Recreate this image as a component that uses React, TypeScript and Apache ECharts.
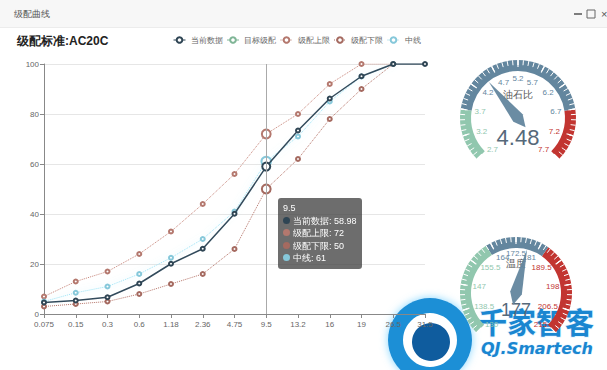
import React, { useEffect, useRef } from 'react';
import * as echarts from 'echarts';

const sieveSizes = ['0.075', '0.15', '0.3', '0.6', '1.18', '2.36', '4.75', '9.5', '13.2', '16', '19', '26.5', '31.5'];
const currentData = [4.6, 5.4, 6.7, 12.2, 20.1, 26.1, 40.1, 58.98, 73.4, 86.2, 95.1, 100, 100];
const targetData: number[] = [];
const upperLimit = [7, 13, 17, 24, 33, 44, 56, 72, 80, 92, 100, 100];
const lowerLimit = [3, 4, 5, 8, 12, 16, 26, 50, 62, 78, 90, 100];
const midLine = [5, 8.5, 11, 16, 22.5, 30, 41, 61, 71, 85, 95, 100];
const yTicks = { min: 0, max: 100, interval: 20 };

const asphaltGauge = { name: '油石比', min: 2.7, max: 7.7, value: 4.48 };
const tempGauge = { name: '温度', min: 130, max: 215, value: 177 };

const fmt = (v: number) => String(Math.round(Number(v) * 10) / 10);

function gaugeSeries(
  g: { name: string; min: number; max: number; value: number },
  center: number[],
  radius: number,
  colors: any[],
  titleOff: string,
  detailOff: string,
  detailSize: number,
  labelDist: number
) {
  return {
    type: 'gauge',
    center,
    radius,
    min: g.min,
    max: g.max,
    splitNumber: 10,
    startAngle: 225,
    endAngle: -45,
    axisLine: { lineStyle: { width: 11, color: colors } },
    axisTick: { distance: -11, length: 5, splitNumber: 5, lineStyle: { color: '#fff', width: 1 } },
    splitLine: { distance: -11, length: 7, lineStyle: { color: '#fff', width: 1.2 } },
    axisLabel: { distance: labelDist, color: 'auto', fontSize: 8, formatter: (v: number) => fmt(v) },
    pointer: { width: 6, length: '80%', itemStyle: { color: 'auto', opacity: 0.95 } },
    anchor: { show: false },
    progress: { show: false },
    title: { offsetCenter: [0, titleOff], fontSize: 10, color: '#555' },
    detail: { offsetCenter: [0, detailOff], fontSize: detailSize, fontWeight: 'normal', color: '#56697a', formatter: '{value}' },
    data: [{ value: g.value, name: g.name }],
  };
}

export default function App() {
  const ref = useRef<HTMLDivElement>(null);
  useEffect(() => {
    if (!ref.current) return;
    const chart = echarts.init(ref.current, null, { renderer: 'svg' });
    const dotted = (color: string) => ({
      type: 'line',
      symbol: 'emptyCircle',
      symbolSize: 4,
      itemStyle: { color },
      lineStyle: { type: 'dotted', width: 1, color },
      emphasis: { scale: 2.2 },
    });
    chart.setOption({
      animation: false,
      title: {
        text: '级配标准:AC20C',
        left: 12,
        top: 30,
        textStyle: { fontSize: 12, fontWeight: 'bold', color: '#222' },
      },
      legend: {
        top: 31,
        left: 168,
        itemWidth: 12,
        itemHeight: 7,
        itemGap: 4,
        lineStyle: { width: 1 },
        itemStyle: { borderWidth: 1 },
        textStyle: { fontSize: 7.5, color: '#666' },
        data: ['当前数据', '目标级配', '级配上限', '级配下限', '中线'],
      },
      grid: { left: 44, right: 182, top: 64, bottom: 56 },
      tooltip: {
        trigger: 'axis',
        alwaysShowContent: true,
        position: [278, 198],
        backgroundColor: 'rgba(60,60,60,0.75)',
        borderWidth: 0,
        padding: [4, 5],
        textStyle: { color: '#fff', fontSize: 9, lineHeight: 12.5 },
        extraCssText: 'border-radius:3px;box-shadow:none;line-height:12.5px;',
        axisPointer: { type: 'line', lineStyle: { color: '#aaa', width: 1, type: 'solid' } },
        formatter: (params: any[]) => {
          const head = params[0].axisValue;
          const rows = params.map(
            (p) =>
              `<span style="display:inline-block;width:7px;height:7px;border-radius:50%;margin-right:3px;background:${p.color};"></span>${p.seriesName}: ${p.value}`
          );
          return [head, ...rows].join('<br/>');
        },
      },
      xAxis: {
        type: 'category',
        boundaryGap: false,
        data: sieveSizes,
        axisLine: { lineStyle: { color: '#888' } },
        axisTick: { alignWithLabel: true, length: 4, lineStyle: { color: '#888' } },
        axisLabel: { fontSize: 8, color: '#666', margin: 6, interval: 0 },
      },
      yAxis: {
        type: 'value',
        min: yTicks.min,
        max: yTicks.max,
        interval: yTicks.interval,
        axisLine: { show: true, lineStyle: { color: '#888' } },
        axisTick: { show: true, length: 4, lineStyle: { color: '#888' } },
        axisLabel: { fontSize: 8, color: '#666', margin: 5 },
        splitLine: { lineStyle: { color: '#e6e6e6' } },
      },
      series: [
        {
          name: '当前数据',
          type: 'line',
          data: currentData,
          symbol: 'emptyCircle',
          symbolSize: 4,
          z: 5,
          itemStyle: { color: '#2f4554' },
          lineStyle: { width: 1.5, color: '#2f4554' },
          emphasis: { scale: 2 },
        },
        {
          name: '目标级配',
          type: 'line',
          data: targetData,
          symbol: 'emptyCircle',
          itemStyle: { color: '#7fb596' },
          lineStyle: { width: 1 },
        },
        { name: '级配上限', data: upperLimit, ...dotted('#b4786e') },
        { name: '级配下限', data: lowerLimit, ...dotted('#a56a60') },
        {
          name: '中线',
          type: 'line',
          data: midLine,
          symbol: 'emptyCircle',
          symbolSize: 4,
          itemStyle: { color: '#86c8da' },
          lineStyle: { type: 'dotted', width: 1, color: '#8fd0e0', shadowColor: 'rgba(140,220,240,0.8)', shadowBlur: 6 },
          emphasis: { scale: 2.4 },
        },
        gaugeSeries(asphaltGauge, [518, 118], 58, [[0.2, '#91c7ae'], [0.8, '#63869e'], [1, '#c23531']], '-40%', '34%', 22, 18),
        gaugeSeries(tempGauge, [516, 293], 56, [[0.38, '#91c7ae'], [0.63, '#63869e'], [1, '#c23531']], '-52%', '30%', 18, 16),
      ],
      graphic: [
        { type: 'rect', left: 0, top: 0, shape: { width: 607, height: 27 }, style: { fill: '#f7f7f7' }, z: 0 },
        { type: 'line', shape: { x1: 0, y1: 27.5, x2: 607, y2: 27.5 }, style: { stroke: '#ececec', lineWidth: 1 } },
        { type: 'text', left: 14, top: 9, style: { text: '级配曲线', fontSize: 9, fill: '#555' } },
        { type: 'line', shape: { x1: 574, y1: 14, x2: 582, y2: 14 }, style: { stroke: '#555', lineWidth: 1.5 } },
        { type: 'rect', shape: { x: 587, y: 10, width: 8, height: 8 }, style: { fill: 'none', stroke: '#666', lineWidth: 1 } },
        { type: 'text', left: 601, top: 8, style: { text: '×', fontSize: 11, fill: '#555' } },
        // watermark
        {
          type: 'group',
          z: 100,
          children: [
            { type: 'circle', shape: { cx: 430, cy: 340, r: 42 }, style: { fill: '#1b8fd6', shadowColor: 'rgba(120,210,255,0.9)', shadowBlur: 8 } },
            { type: 'circle', shape: { cx: 430, cy: 340, r: 27 }, style: { fill: '#ffffff' } },
            { type: 'circle', shape: { cx: 431, cy: 342, r: 19 }, style: { fill: '#0f5c9e' } },
            {
              type: 'text',
              x: 478,
              y: 306,
              style: {
                text: '千家智客',
                font: 'bold 29px "Noto Sans CJK SC", sans-serif',
                fill: '#1a86d0',
                stroke: '#dff4ff',
                lineWidth: 1.5,
                shadowColor: 'rgba(120,210,255,0.9)',
                shadowBlur: 6,
              },
            },
            {
              type: 'text',
              x: 481,
              y: 340,
              style: {
                text: 'QJ.Smartech',
                font: 'italic bold 16px "DejaVu Sans", sans-serif',
                fill: '#1a86d0',
                stroke: '#dff4ff',
                lineWidth: 1,
                shadowColor: 'rgba(120,210,255,0.9)',
                shadowBlur: 5,
              },
            },
          ],
        },
      ],
    });
    chart.dispatchAction({ type: 'showTip', seriesIndex: 0, dataIndex: 7 });
    return () => chart.dispose();
  }, []);
  return <div ref={ref} style={{ position: 'absolute', left: 0, top: 0, width: 607, height: 370, background: '#fff' }} />;
}
